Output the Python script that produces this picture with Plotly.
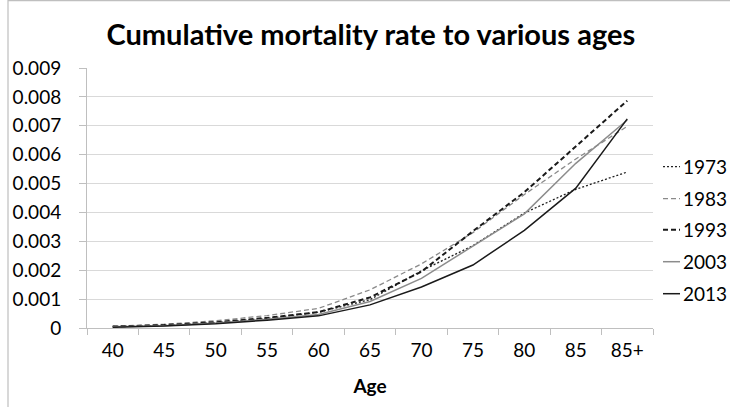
import plotly.graph_objects as go

ages = ["40", "45", "50", "55", "60", "65", "70", "75", "80", "85", "85+"]
y1973 = [0.00005, 0.00009, 0.00019, 0.00033, 0.00055, 0.00098, 0.00198, 0.00285, 0.00398, 0.00480, 0.00540]
y1983 = [0.00006, 0.00013, 0.00025, 0.00043, 0.00068, 0.00132, 0.00222, 0.00330, 0.00462, 0.00585, 0.00698]
y1993 = [0.00005, 0.00010, 0.00020, 0.00035, 0.00055, 0.00106, 0.00195, 0.00335, 0.00470, 0.00630, 0.00787]
y2003 = [0.00004, 0.00008, 0.00017, 0.00030, 0.00047, 0.00092, 0.00172, 0.00282, 0.00395, 0.00570, 0.00720]
y2013 = [0.00003, 0.00007, 0.00015, 0.00027, 0.00042, 0.00080, 0.00142, 0.00218, 0.00338, 0.00484, 0.00724]
years = ["1973", "1983", "1993", "2003", "2013"]
ytick_vals = [0, 0.001, 0.002, 0.003, 0.004, 0.005, 0.006, 0.007, 0.008, 0.009]
ytick_text = ["0", "0.001", "0.002", "0.003", "0.004", "0.005", "0.006", "0.007", "0.008", "0.009"]

series = [y1973, y1983, y1993, y2003, y2013]
styles = [
    dict(color="#222222", width=1.3, dash="2px,2px"),
    dict(color="#8a8a8a", width=1.3, dash="5px,3px"),
    dict(color="#1a1a1a", width=2.0, dash="5px,3px"),
    dict(color="#8c8c8c", width=1.5, dash="solid"),
    dict(color="#1a1a1a", width=1.5, dash="solid"),
]

FONT = "Lato"
W, H = 730, 407
L, R, T, B = 87, 653, 68.3, 328.3

fig = go.Figure()
for name, ys, st in zip(years, series, styles):
    fig.add_trace(go.Scatter(x=ages, y=ys, mode="lines", name=name, line=st,
                             showlegend=False))

def px2paper(px, py):
    return (px - L) / (R - L), (B - py) / (B - T)

shapes = []
annotations = []
# chart border
x0, y0 = px2paper(8, 1)
x1, y1 = px2paper(760, 440)
shapes.append(dict(type="rect", xref="paper", yref="paper", x0=x0, y0=y1, x1=x1, y1=y0,
                   line=dict(color="#bfbfbf", width=1.2), layer="below"))

leg_y = [167, 199, 230, 262, 294]
for name, st, ly in zip(years, styles, leg_y):
    sx0, sy = px2paper(663, ly)
    sx1, _ = px2paper(680, ly)
    shapes.append(dict(type="line", xref="paper", yref="paper", x0=sx0, x1=sx1, y0=sy, y1=sy,
                       line=dict(color=st["color"], width=st["width"], dash=st["dash"])))
    tx, ty = px2paper(681, ly)
    annotations.append(dict(xref="paper", yref="paper", x=tx, y=ty, text=name, showarrow=False,
                            xanchor="left", yanchor="middle",
                            font=dict(family=FONT, size=19, color="#000000")))

fig.update_layout(
    width=W, height=H,
    margin=dict(l=L, r=W - R, t=T, b=H - B, pad=0),
    paper_bgcolor="white", plot_bgcolor="white",
    title=dict(text="<b>Cumulative mortality rate to various ages</b>", x=0.508, xanchor="center",
               y=1 - 35 / H, yanchor="middle",
               font=dict(family=FONT, size=29, color="#000000")),
    shapes=shapes, annotations=annotations,
    showlegend=False,
)
fig.update_xaxes(
    type="category", tickson="boundaries", ticks="outside", ticklen=6, tickcolor="#bfbfbf",
    showline=True, linecolor="#bfbfbf", linewidth=1, showgrid=False,
    tickfont=dict(family=FONT, size=19, color="#000000"), ticklabelstandoff=5,
    title=dict(text="<b>Age</b>", font=dict(family=FONT, size=19, color="#000000"), standoff=19),
    range=[-0.5, 10.5],
)
fig.update_yaxes(
    range=[0, 0.009], tickvals=ytick_vals, ticktext=ytick_text, ticks="outside", ticklen=7,
    tickcolor="#bfbfbf", showline=True, linecolor="#bfbfbf", linewidth=1,
    showgrid=True, gridcolor="#d9d9d9", gridwidth=1, zeroline=False,
    tickfont=dict(family=FONT, size=19, color="#000000"), ticklabelstandoff=14,
)

fig.write_html("out.html")
